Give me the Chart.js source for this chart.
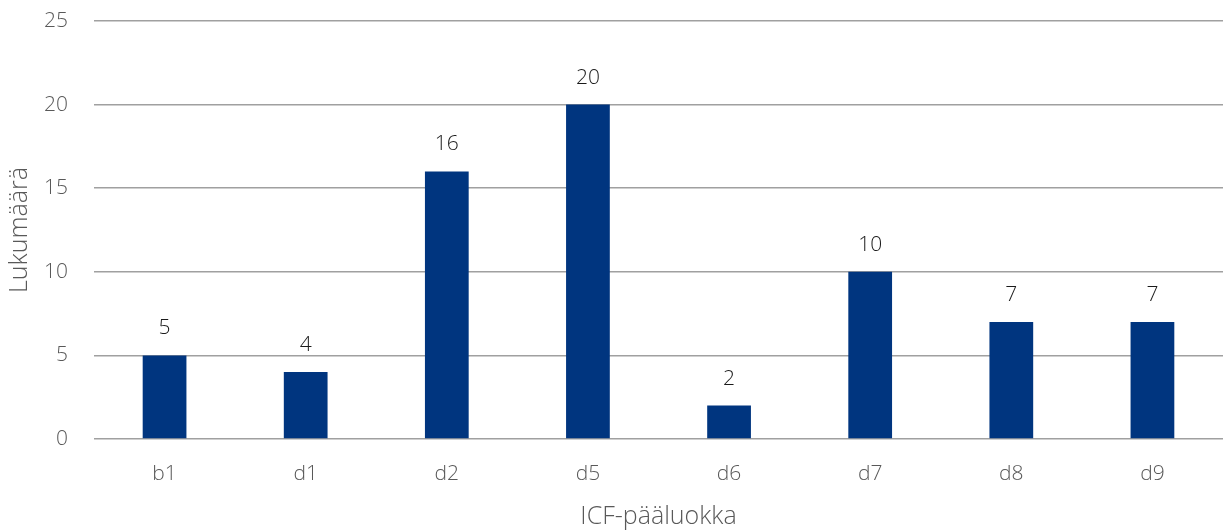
<!DOCTYPE html>
<html lang="fi">
<head>
  <meta charset="UTF-8">
  <title>ICF-pääluokka</title>
  <style>
    body, html { margin: 0; padding: 0; background: #fff; }
    .wrap { width: 1223px; height: 532px; position: relative; }
  </style>
  <script src="https://cdn.jsdelivr.net/npm/chart.js"></script>
</head>
<body>
  <div class="wrap"><canvas id="chart"></canvas></div>
  <script>
    const categories = ["b1", "d1", "d2", "d5", "d6", "d7", "d8", "d9"];
    const counts = [5, 4, 16, 20, 2, 10, 7, 7];
    const yTicks = [0, 5, 10, 15, 20, 25];

    // draws the value above each bar
    const valueLabels = {
      id: 'valueLabels',
      afterDatasetsDraw(chart) {
        const ctx = chart.ctx;
        const meta = chart.getDatasetMeta(0);
        ctx.save();
        ctx.font = '300 21px "Open Sans", sans-serif';
        ctx.fillStyle = '#1a1a1a';
        ctx.textAlign = 'center';
        ctx.textBaseline = 'middle';
        meta.data.forEach((bar, i) => {
          ctx.fillText(String(counts[i]), bar.x, bar.y - 27);
        });
        ctx.restore();
      }
    };

    const tickFont = { family: 'Open Sans', size: 21, weight: 300 };
    const titleFont = { family: 'Open Sans', size: 25, weight: 300 };

    new Chart(document.getElementById('chart'), {
      type: 'bar',
      data: {
        labels: categories,
        datasets: [{
          data: counts,
          backgroundColor: '#00357f',
          categoryPercentage: 1,
          barPercentage: 0.31
        }]
      },
      options: {
        responsive: true,
        maintainAspectRatio: false,
        animation: false,
        layout: { padding: { top: 21, right: 0, left: 0, bottom: 0 } },
        plugins: { legend: { display: false }, tooltip: { enabled: false } },
        scales: {
          x: {
            grid: { display: false, drawTicks: false },
            border: { display: false },
            ticks: { color: '#595959', font: tickFont, padding: 22 },
            title: { display: true, text: 'ICF-pääluokka', color: '#595959', font: titleFont, padding: { top: 0, bottom: 0 } },
            afterFit(axis) { axis.height = 93; axis.paddingLeft = 0; axis.paddingRight = 0; }
          },
          y: {
            min: 0, max: 25,
            afterBuildTicks(axis) { axis.ticks = yTicks.map(v => ({ value: v })); },
            grid: { color: '#a0a0a0', lineWidth: 1.5, drawTicks: false },
            border: { display: false },
            ticks: { color: '#595959', font: tickFont, padding: 26 },
            title: { display: true, text: 'Lukumäärä', color: '#595959', font: titleFont, padding: { top: 5, bottom: 0 } },
            afterFit(axis) { axis.width = 94; axis.paddingTop = 0; axis.paddingBottom = 0; }
          }
        }
      },
      plugins: [valueLabels]
    });
  </script>
</body>
</html>
